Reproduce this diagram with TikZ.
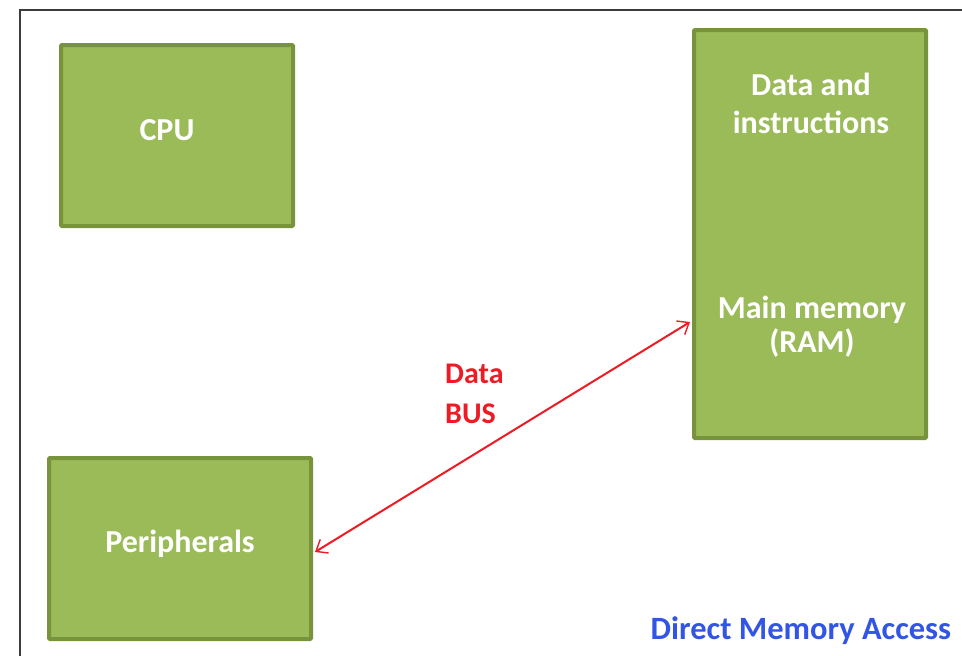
\documentclass[tikz,border=0pt]{standalone}
\usepackage{fontspec}
\setmainfont{Carlito}
\usetikzlibrary{arrows.meta,calc}
\definecolor{boxfill}{RGB}{155,187,89}
\definecolor{boxline}{RGB}{119,147,60}
\definecolor{busred}{RGB}{237,28,36}
\definecolor{dmablue}{RGB}{51,85,230}
\definecolor{framegray}{RGB}{60,60,60}
\begin{document}
\begin{tikzpicture}[x=1pt,y=-1pt,
  unitbox/.style={draw=boxline,fill=boxfill,line width=4pt,rectangle,inner sep=0pt,rounded corners=1pt},
  boxtext/.style={text=white,font=\bfseries\fontsize{32}{38}\selectfont,inner sep=0pt,anchor=base},
  bustext/.style={text=busred,font=\bfseries\fontsize{30}{36}\selectfont,inner sep=0pt,anchor=base west},
  dmatext/.style={text=dmablue,font=\bfseries\fontsize{32.5}{38}\selectfont,inner sep=0pt,anchor=base},
  busline/.style={draw=busred,line width=2pt,{Straight Barb[length=10pt,width=16pt,line width=1.4pt]}-{Straight Barb[length=10pt,width=16pt,line width=1.4pt]}}
]
\useasboundingbox (0,0) rectangle (962,656);
\fill[white] (0,0) rectangle (962,656);
% frame
\coordinate (fbl) at (19.5,660);
\coordinate (ftl) at (19.5,9.5);
\coordinate (ftr) at (966,9.5);
\draw[framegray,line width=2pt] (fbl) -- (ftl) -- (ftr);
% boxes
\node[unitbox,minimum width=232pt,minimum height=181pt] (cpu) at (177,135.5) {};
\node[unitbox,minimum width=232pt,minimum height=408pt] (mem) at (810,234) {};
\node[unitbox,minimum width=262pt,minimum height=181pt] (perip) at (180,548.5) {};
% box texts
\node[boxtext] (cputext) at (167,140) {CPU};
\node[boxtext] (memtext1) at (811,95) {Data and};
\node[boxtext] (memtext2) at (811,133) {instructions};
\node[boxtext] (memtext3) at (812,318) {Main memory};
\node[boxtext] (memtext4) at (812,352) {(RAM)};
\node[boxtext] (periptext) at (180,552) {Peripherals};
% bus
\coordinate (pa) at ($(perip.east)+(2,3.5)$);
\coordinate (ma) at ($(mem.west)+(-2,88)$);
\draw[busline] (pa) -- (ma);
\node[bustext] (bus1) at (445,383) {Data};
\node[bustext] (bus2) at (445,423) {BUS};
% caption
\node[dmatext] (dma) at (801,639) {Direct Memory Access};
\end{tikzpicture}
\end{document}
